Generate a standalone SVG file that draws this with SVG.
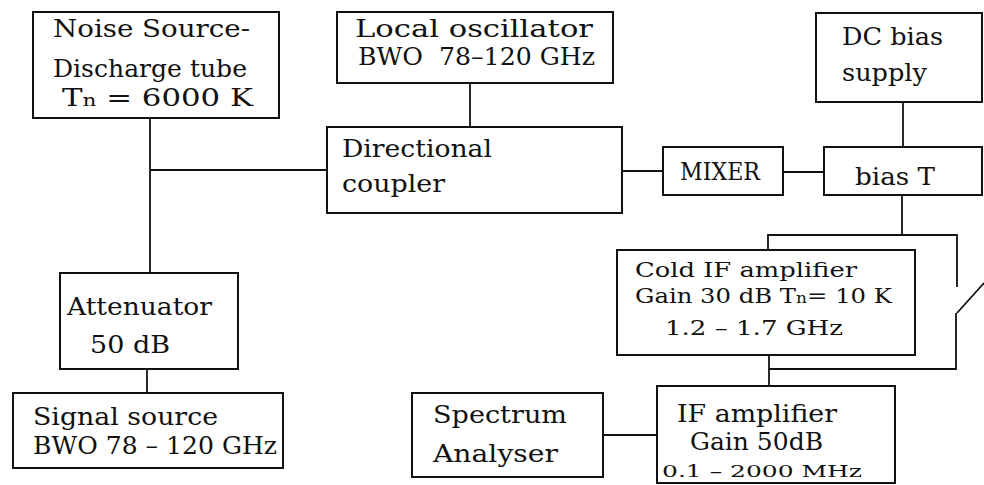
<svg xmlns="http://www.w3.org/2000/svg" width="984" height="485" viewBox="0 0 984 485">
<style>
rect.box{fill:#fff;stroke:#111;stroke-width:2}
#connectors path{fill:none;stroke:#111;stroke-width:1.8}
text{font-family:"DejaVu Serif","Liberation Serif",serif;font-size:25px;fill:#111}
text.s{font-size:20px}
text.xs{font-size:17px}
tspan.sub{font-size:70%}
</style>
<rect width="984" height="485" fill="#fff"/>
<g id="connectors">
<path d="M150 118V273M150 170H327"/>
<path d="M147 369V393"/>
<path d="M470 83V127"/>
<path d="M622 171H663"/>
<path d="M783 172H824"/>
<path d="M903 102V147"/>
<path d="M902 195V235M768 250V235H957V287"/>
<path d="M957 313L984 283"/>
<path d="M956 313V369H769"/>
<path d="M769 355V386"/>
<path d="M603 435H657"/>
</g>
<g id="noise-source">
<rect class="box" x="33" y="12" width="246" height="106"/>
<text x="53" y="37" textLength="197" lengthAdjust="spacingAndGlyphs">Noise Source-</text>
<text x="53" y="77" textLength="194" lengthAdjust="spacingAndGlyphs">Discharge tube</text>
<text x="62" y="106" textLength="191" lengthAdjust="spacingAndGlyphs">T<tspan class="sub">n</tspan> = 6000 K</text>
</g>
<g id="local-oscillator">
<rect class="box" x="337" y="12" width="276" height="71"/>
<text x="355" y="37" textLength="238" lengthAdjust="spacingAndGlyphs">Local oscillator</text>
<text x="358" y="65" textLength="237" lengthAdjust="spacingAndGlyphs">BWO&#160; 78–120 GHz</text>
</g>
<g id="directional-coupler">
<rect class="box" x="327" y="127" width="295" height="86"/>
<text x="342" y="157" textLength="150" lengthAdjust="spacingAndGlyphs">Directional</text>
<text x="342" y="192" textLength="103" lengthAdjust="spacingAndGlyphs">coupler</text>
</g>
<g id="mixer">
<rect class="box" x="663" y="147" width="120" height="48"/>
<text x="680" y="180" textLength="80" lengthAdjust="spacingAndGlyphs">MIXER</text>
</g>
<g id="dc-bias-supply">
<rect class="box" x="816" y="13" width="166" height="89"/>
<text x="842" y="45" textLength="101" lengthAdjust="spacingAndGlyphs">DC bias</text>
<text x="842" y="81" textLength="85" lengthAdjust="spacingAndGlyphs">supply</text>
</g>
<g id="bias-t">
<rect class="box" x="824" y="147" width="158" height="48"/>
<text x="855" y="185" textLength="80" lengthAdjust="spacingAndGlyphs">bias T</text>
</g>
<g id="cold-if-amplifier">
<rect class="box" x="617" y="250" width="298" height="105"/>
<text class="s" x="635" y="277" textLength="222" lengthAdjust="spacingAndGlyphs">Cold IF amplifier</text>
<text class="s" x="635" y="303" textLength="257" lengthAdjust="spacingAndGlyphs">Gain 30 dB T<tspan class="sub">n</tspan>= 10 K</text>
<text class="s" x="665" y="335" textLength="178" lengthAdjust="spacingAndGlyphs">1.2 – 1.7 GHz</text>
</g>
<g id="attenuator">
<rect class="box" x="60" y="273" width="178" height="96"/>
<text x="67" y="315" textLength="145" lengthAdjust="spacingAndGlyphs">Attenuator</text>
<text x="90" y="353" textLength="80" lengthAdjust="spacingAndGlyphs">50 dB</text>
</g>
<g id="signal-source">
<rect class="box" x="13" y="393" width="270" height="75"/>
<text x="33" y="425" textLength="185" lengthAdjust="spacingAndGlyphs">Signal source</text>
<text x="33" y="454" textLength="244" lengthAdjust="spacingAndGlyphs">BWO 78 – 120 GHz</text>
</g>
<g id="spectrum-analyser">
<rect class="box" x="412" y="393" width="191" height="84"/>
<text x="433" y="423" textLength="134" lengthAdjust="spacingAndGlyphs">Spectrum</text>
<text x="433" y="462" textLength="125" lengthAdjust="spacingAndGlyphs">Analyser</text>
</g>
<g id="if-amplifier">
<rect class="box" x="657" y="386" width="238" height="97"/>
<text x="677" y="422" textLength="160" lengthAdjust="spacingAndGlyphs">IF amplifier</text>
<text x="690" y="450" textLength="133" lengthAdjust="spacingAndGlyphs">Gain 50dB</text>
<text class="xs" x="662" y="477" textLength="200" lengthAdjust="spacingAndGlyphs">0.1 – 2000 MHz</text>
</g>
</svg>
